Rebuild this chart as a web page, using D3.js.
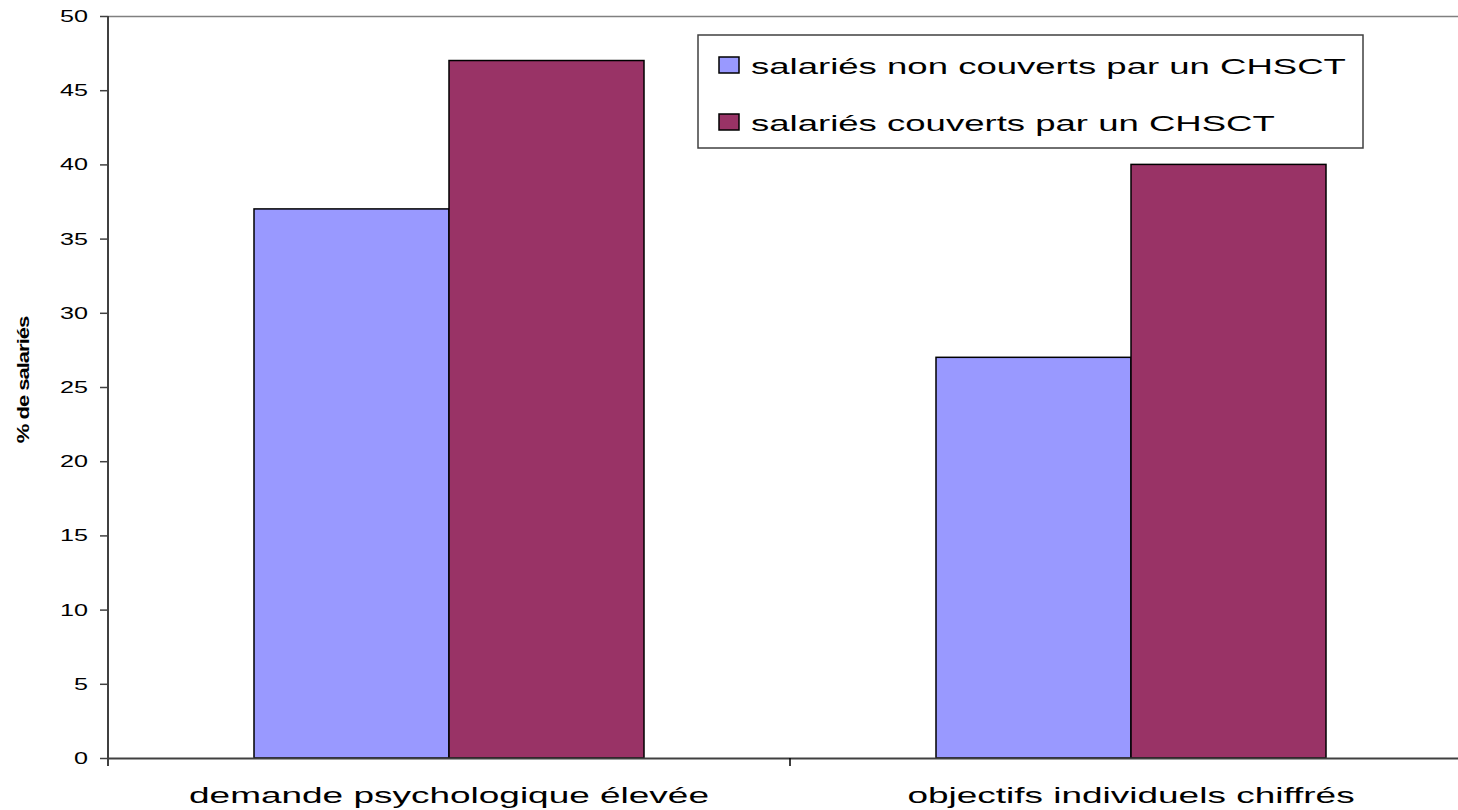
<!DOCTYPE html>
<html>
<head>
<meta charset="utf-8">
<script src="https://cdn.jsdelivr.net/npm/d3@7"></script>
<style>
  body { margin: 0; background: #fff; }
  text { font-family: "Liberation Sans", Arial, sans-serif; fill: #000; }
</style>
</head>
<body>
<script>
// chart data
const categories = ["demande psychologique élevée", "objectifs individuels chiffrés"];
const seriesNames = ["salariés non couverts par un CHSCT", "salariés couverts par un CHSCT"];
const nonCouverts = [37, 27];
const couverts = [47, 40];
const yTicks = [0, 5, 10, 15, 20, 25, 30, 35, 40, 45, 50];
const colors = ["#9999FF", "#993366"];

const W = 1458, H = 810;
const margin = { top: 16, right: -14, bottom: 52, left: 108 },
    width = W - margin.left - margin.right,
    height = H - margin.top - margin.bottom;

// the original renders its text stretched horizontally
const tickStretch = 1.48, catStretch = 1.72, legStretch = 1.70;

const svg = d3.select("body").append("svg")
    .attr("width", W)
    .attr("height", H);

const g = svg.append("g")
    .attr("transform", "translate(" + margin.left + "," + margin.top + ")");

const x = d3.scaleBand()
    .domain(categories)
    .range([0, width]);

// two bars of ~195px centred in each band
const barW = 195;
const xs = d3.scaleBand()
    .domain(d3.range(seriesNames.length))
    .range([x.bandwidth() / 2 - barW, x.bandwidth() / 2 + barW]);

const y = d3.scaleLinear()
    .domain([0, 50])
    .range([height, 0]);

// top frame line
g.append("line")
    .attr("x1", 0).attr("x2", width)
    .attr("y1", 0.5).attr("y2", 0.5)
    .attr("stroke", "#808080").attr("stroke-width", 1.5);

// bars
const data = categories.map((c, i) => ({ cat: c, vals: [nonCouverts[i], couverts[i]] }));
const groups = g.selectAll(".grp")
    .data(data)
    .enter().append("g")
    .attr("transform", d => "translate(" + x(d.cat) + ",0)");

groups.selectAll("rect")
    .data(d => d.vals.map((v, j) => ({ v, j })))
    .enter().append("rect")
    .attr("x", d => xs(d.j))
    .attr("width", xs.bandwidth())
    .attr("y", d => y(d.v))
    .attr("height", d => y(0) - y(d.v))
    .attr("fill", d => colors[d.j])
    .attr("stroke", "#000")
    .attr("stroke-width", 1.5);

// y axis
const yAxis = g.append("g")
    .call(d3.axisLeft(y).tickValues(yTicks).tickSize(8));
yAxis.select(".domain").attr("stroke", "#404040").attr("stroke-width", 2)
    .attr("d", "M0," + (height + 8) + "V0");
yAxis.selectAll(".tick line").attr("stroke", "#404040").attr("stroke-width", 1.5);
yAxis.selectAll(".tick text")
    .attr("font-family", "Liberation Sans, Arial, sans-serif")
    .style("font-size", "17px")
    .attr("x", -20 / tickStretch)
    .attr("transform", "scale(" + tickStretch + ",1)");

// x axis
const xAxis = g.append("g")
    .attr("transform", "translate(0," + height + ")")
    .call(d3.axisBottom(x).tickSize(0).tickPadding(0));
xAxis.select(".domain").attr("stroke", "#404040").attr("stroke-width", 2);
xAxis.selectAll(".tick text")
    .attr("font-family", "Liberation Sans, Arial, sans-serif")
    .style("font-size", "21.5px")
    .attr("dy", null)
    .attr("y", 45)
    .attr("transform", "scale(" + catStretch + ",1)");
// category separator tick
xAxis.append("line")
    .attr("x1", x.step()).attr("x2", x.step())
    .attr("y1", 0).attr("y2", 8)
    .attr("stroke", "#000").attr("stroke-width", 1.5);

// y axis title
svg.append("text")
    .attr("transform", "translate(29,380) rotate(-90) scale(1.3,1)")
    .attr("text-anchor", "middle")
    .style("font-size", "17px")
    .style("font-weight", "bold")
    .style("letter-spacing", "-0.8px")
    .text("% de salariés");

// legend
const legend = svg.append("g").attr("transform", "translate(698,35)");
legend.append("rect")
    .attr("width", 665).attr("height", 113)
    .attr("fill", "#fff").attr("stroke", "#404040").attr("stroke-width", 1.5);

const items = legend.selectAll(".item")
    .data(seriesNames)
    .enter().append("g")
    .attr("transform", (d, i) => "translate(21," + (22 + i * 57) + ")");
items.append("rect")
    .attr("width", 20).attr("height", 16)
    .attr("fill", (d, i) => colors[i])
    .attr("stroke", "#000").attr("stroke-width", 1.5);
items.append("text")
    .attr("transform", "translate(32,17) scale(" + legStretch + ",1)")
    .style("font-size", "21.5px")
    .text(d => d);
</script>
</body>
</html>
